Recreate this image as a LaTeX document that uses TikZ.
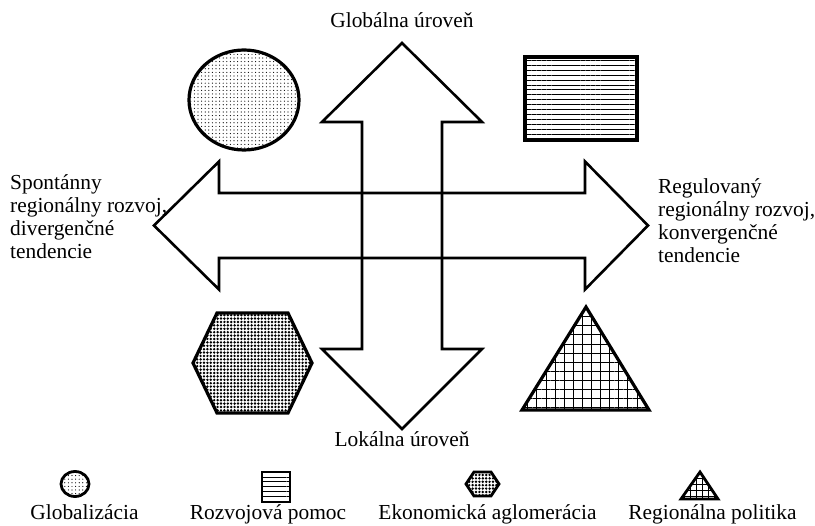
\documentclass[tikz,border=0pt]{standalone}
\usepackage{fontspec}
\setmainfont{Liberation Serif}
\usetikzlibrary{patterns.meta}
\begin{document}
\begin{tikzpicture}[x=1pt,y=-1pt,
  bigarrow/.style={draw=black,line width=2.6pt,line join=miter},
  shapeline/.style={draw=black,line width=3.2pt,line join=miter},
  keyline/.style={draw=black,line width=2.8pt,line join=miter},
  dotfill/.style={pattern={Dots[distance=3.6pt,radius=0.6pt]}},
  linefill/.style={pattern={Lines[distance=4.9pt,line width=0.9pt]}},
  densefill/.style={pattern={Dots[distance=3.4pt,radius=1.35pt]}},
  gridfill/.style={pattern={Hatch[distance=9.1pt,line width=0.9pt]}},
  lbl/.style={font=\fontsize{21.4}{23.3}\selectfont,inner sep=0pt},
  side/.style={lbl,align=left,anchor=base west}]
\useasboundingbox (0,0) rectangle (815,526);

% vertical double arrow (global / local level)
\draw[bigarrow] (402,43) -- (482,122) -- (442,122) -- (442,349) -- (482,349)
  -- (402,429) -- (322,349) -- (362,349) -- (362,122) -- (322,122) -- cycle;
% horizontal double arrow (spontaneous / regulated development)
\draw[bigarrow] (154,225.5) -- (219,161.5) -- (219,193) -- (585,193) -- (585,161.5)
  -- (648,225.5) -- (585,289.5) -- (585,258) -- (219,258) -- (219,289.5) -- cycle;

% quadrant symbols
\path[shapeline,dotfill] (244,100) ellipse [x radius=55,y radius=50];
\path[shapeline,linefill] (525,57) rectangle (637,140);
\path[shapeline,densefill] (193,363) -- (217,313) -- (288,313) -- (312,363)
  -- (288,413) -- (217,413) -- cycle;
\path[shapeline,gridfill] (586,307) -- (649,410) -- (522,410) -- cycle;

% axis labels (multi-line nodes are placed by the baseline of their last line)
\node[lbl,anchor=base] (glob) at (402,28) {Globálna úroveň};
\node[lbl,anchor=base] (lok) at (402,447) {Lokálna úroveň};
\node[side] (spont) at (10,259) {Spontánny\\regionálny rozvoj,\\divergenčné\\tendencie};
\node[side] (regul) at (658,263) {Regulovaný\\regionálny rozvoj,\\konvergenčné\\tendencie};

% legend
\path[keyline,dotfill] (75,484) ellipse [x radius=14,y radius=12.5];
\path[keyline,linefill] (262,472) rectangle (290,502);
\path[keyline,densefill] (466,484) -- (474,472) -- (491,472) -- (499,484)
  -- (491,496) -- (474,496) -- cycle;
\path[keyline,pattern={Hatch[distance=6pt,line width=0.9pt]}] (700,472) -- (718,499) -- (681,499) -- cycle;
\node[lbl,anchor=base] (k1) at (84.5,520) {Globalizácia};
\node[lbl,anchor=base] (k2) at (268,520) {Rozvojová pomoc};
\node[lbl,anchor=base] (k3) at (487.5,520) {Ekonomická aglomerácia};
\node[lbl,anchor=base] (k4) at (712.5,520) {Regionálna politika};
\end{tikzpicture}
\end{document}
